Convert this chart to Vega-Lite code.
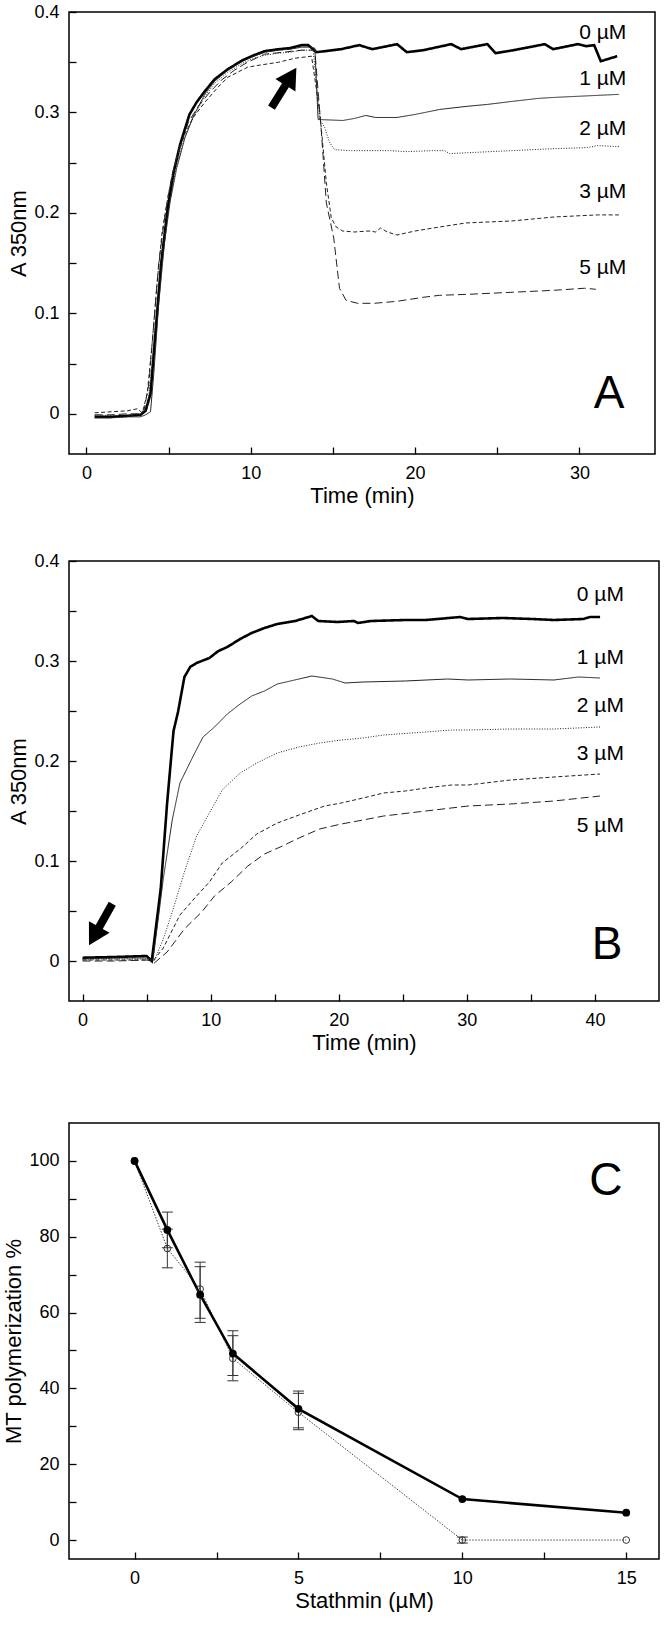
{
  "$schema": "https://vega.github.io/schema/vega-lite/v6.json",
  "background": "white",
  "padding": {"left": 2, "top": 2, "right": 0, "bottom": 0},
  "config": {
    "font": "Liberation Sans",
    "view": {"stroke": "black", "strokeWidth": 1.5},
    "axis": {
      "domain": false, "grid": false, "tickColor": "black", "tickWidth": 1.3, "tickSize": -7,
      "labelColor": "black", "titleColor": "black", "labelFontSize": 18, "titleFontSize": 22,
      "titleFontWeight": "normal", "labelFont": "Liberation Sans", "titleFont": "Liberation Sans",
      "labelPadding": 17, "labelFlush": false, "labelOverlap": false, "titlePadding": 3
    }
  },
  "datasets": {
    "a": [
      {"s":"0 µM","t":0.5,"a":-0.003},{"s":"0 µM","t":1.5,"a":-0.003},{"s":"0 µM","t":2.5,"a":-0.002},{"s":"0 µM","t":3.3,"a":-0.001},{"s":"0 µM","t":3.6,"a":0.003},{"s":"0 µM","t":3.9,"a":0.02},{"s":"0 µM","t":4.2,"a":0.08},{"s":"0 µM","t":4.55,"a":0.15},{"s":"0 µM","t":4.95,"a":0.205},{"s":"0 µM","t":5.3,"a":0.24},{"s":"0 µM","t":5.7,"a":0.268},{"s":"0 µM","t":6.27,"a":0.298},{"s":"0 µM","t":6.7,"a":0.31},{"s":"0 µM","t":7.2,"a":0.321},{"s":"0 µM","t":7.8,"a":0.333},{"s":"0 µM","t":8.6,"a":0.343},{"s":"0 µM","t":9.5,"a":0.352},{"s":"0 µM","t":10.2,"a":0.357},{"s":"0 µM","t":10.85,"a":0.361},{"s":"0 µM","t":11.7,"a":0.363},{"s":"0 µM","t":12.4,"a":0.364},{"s":"0 µM","t":13.1,"a":0.367},{"s":"0 µM","t":13.5,"a":0.367},{"s":"0 µM","t":14.0,"a":0.36},{"s":"0 µM","t":14.5,"a":0.361},{"s":"0 µM","t":15.5,"a":0.363},{"s":"0 µM","t":16.6,"a":0.367},{"s":"0 µM","t":17.4,"a":0.363},{"s":"0 µM","t":18.9,"a":0.368},{"s":"0 µM","t":19.5,"a":0.36},{"s":"0 µM","t":20.5,"a":0.362},{"s":"0 µM","t":22.2,"a":0.368},{"s":"0 µM","t":22.8,"a":0.363},{"s":"0 µM","t":24.4,"a":0.368},{"s":"0 µM","t":24.9,"a":0.359},{"s":"0 µM","t":26.0,"a":0.362},{"s":"0 µM","t":27.9,"a":0.368},{"s":"0 µM","t":28.4,"a":0.363},{"s":"0 µM","t":29.9,"a":0.368},{"s":"0 µM","t":30.4,"a":0.366},{"s":"0 µM","t":30.9,"a":0.367},{"s":"0 µM","t":31.3,"a":0.351},{"s":"0 µM","t":32.3,"a":0.356},
      {"s":"1 µM","t":0.5,"a":-0.004},{"s":"1 µM","t":1.5,"a":-0.004},{"s":"1 µM","t":2.5,"a":-0.003},{"s":"1 µM","t":3.3,"a":-0.003},{"s":"1 µM","t":3.6,"a":-0.001},{"s":"1 µM","t":3.9,"a":0.002},{"s":"1 µM","t":4.1,"a":0.04},{"s":"1 µM","t":4.4,"a":0.11},{"s":"1 µM","t":4.75,"a":0.17},{"s":"1 µM","t":5.1,"a":0.212},{"s":"1 µM","t":5.5,"a":0.245},{"s":"1 µM","t":6.0,"a":0.275},{"s":"1 µM","t":6.5,"a":0.296},{"s":"1 µM","t":7.2,"a":0.318},{"s":"1 µM","t":7.8,"a":0.331},{"s":"1 µM","t":8.6,"a":0.342},{"s":"1 µM","t":9.5,"a":0.351},{"s":"1 µM","t":10.2,"a":0.356},{"s":"1 µM","t":10.85,"a":0.36},{"s":"1 µM","t":11.7,"a":0.362},{"s":"1 µM","t":12.4,"a":0.363},{"s":"1 µM","t":13.1,"a":0.365},{"s":"1 µM","t":13.5,"a":0.365},{"s":"1 µM","t":13.9,"a":0.364},{"s":"1 µM","t":14.1,"a":0.293},{"s":"1 µM","t":15.6,"a":0.292},{"s":"1 µM","t":16.3,"a":0.294},{"s":"1 µM","t":17.0,"a":0.297},{"s":"1 µM","t":17.6,"a":0.295},{"s":"1 µM","t":18.9,"a":0.295},{"s":"1 µM","t":20.0,"a":0.298},{"s":"1 µM","t":21.5,"a":0.303},{"s":"1 µM","t":23.1,"a":0.306},{"s":"1 µM","t":24.4,"a":0.308},{"s":"1 µM","t":25.9,"a":0.311},{"s":"1 µM","t":27.5,"a":0.314},{"s":"1 µM","t":28.5,"a":0.315},{"s":"1 µM","t":29.8,"a":0.316},{"s":"1 µM","t":31.1,"a":0.317},{"s":"1 µM","t":32.4,"a":0.318},
      {"s":"2 µM","t":0.5,"a":-0.002},{"s":"2 µM","t":1.5,"a":-0.002},{"s":"2 µM","t":2.5,"a":-0.002},{"s":"2 µM","t":3.3,"a":-0.001},{"s":"2 µM","t":3.7,"a":0.005},{"s":"2 µM","t":4.0,"a":0.05},{"s":"2 µM","t":4.35,"a":0.12},{"s":"2 µM","t":4.7,"a":0.175},{"s":"2 µM","t":5.1,"a":0.215},{"s":"2 µM","t":5.5,"a":0.248},{"s":"2 µM","t":6.0,"a":0.276},{"s":"2 µM","t":6.5,"a":0.295},{"s":"2 µM","t":7.2,"a":0.316},{"s":"2 µM","t":7.8,"a":0.329},{"s":"2 µM","t":8.6,"a":0.34},{"s":"2 µM","t":9.5,"a":0.349},{"s":"2 µM","t":10.2,"a":0.354},{"s":"2 µM","t":10.85,"a":0.357},{"s":"2 µM","t":11.7,"a":0.359},{"s":"2 µM","t":12.4,"a":0.36},{"s":"2 µM","t":13.1,"a":0.362},{"s":"2 µM","t":13.8,"a":0.362},{"s":"2 µM","t":14.2,"a":0.293},{"s":"2 µM","t":14.5,"a":0.285},{"s":"2 µM","t":14.8,"a":0.27},{"s":"2 µM","t":15.1,"a":0.263},{"s":"2 µM","t":16.0,"a":0.262},{"s":"2 µM","t":16.9,"a":0.262},{"s":"2 µM","t":18.5,"a":0.262},{"s":"2 µM","t":19.5,"a":0.261},{"s":"2 µM","t":21.0,"a":0.262},{"s":"2 µM","t":21.8,"a":0.262},{"s":"2 µM","t":22.1,"a":0.259},{"s":"2 µM","t":23.3,"a":0.26},{"s":"2 µM","t":25.9,"a":0.262},{"s":"2 µM","t":28.5,"a":0.264},{"s":"2 µM","t":30.5,"a":0.265},{"s":"2 µM","t":31.1,"a":0.267},{"s":"2 µM","t":32.4,"a":0.266},
      {"s":"3 µM","t":0.5,"a":0.001},{"s":"3 µM","t":1.5,"a":0.002},{"s":"3 µM","t":2.5,"a":0.003},{"s":"3 µM","t":3.1,"a":0.005},{"s":"3 µM","t":3.4,"a":0.001},{"s":"3 µM","t":3.7,"a":0.02},{"s":"3 µM","t":4.0,"a":0.07},{"s":"3 µM","t":4.3,"a":0.13},{"s":"3 µM","t":4.6,"a":0.18},{"s":"3 µM","t":5.0,"a":0.22},{"s":"3 µM","t":5.5,"a":0.255},{"s":"3 µM","t":6.0,"a":0.279},{"s":"3 µM","t":6.5,"a":0.295},{"s":"3 µM","t":7.2,"a":0.31},{"s":"3 µM","t":8.0,"a":0.325},{"s":"3 µM","t":8.6,"a":0.335},{"s":"3 µM","t":9.8,"a":0.345},{"s":"3 µM","t":10.5,"a":0.347},{"s":"3 µM","t":11.7,"a":0.35},{"s":"3 µM","t":12.7,"a":0.354},{"s":"3 µM","t":13.7,"a":0.356},{"s":"3 µM","t":14.2,"a":0.3},{"s":"3 µM","t":14.6,"a":0.23},{"s":"3 µM","t":14.9,"a":0.195},{"s":"3 µM","t":15.2,"a":0.186},{"s":"3 µM","t":15.6,"a":0.182},{"s":"3 µM","t":16.3,"a":0.181},{"s":"3 µM","t":17.2,"a":0.182},{"s":"3 µM","t":17.6,"a":0.181},{"s":"3 µM","t":17.9,"a":0.185},{"s":"3 µM","t":18.3,"a":0.181},{"s":"3 µM","t":18.9,"a":0.178},{"s":"3 µM","t":20.0,"a":0.182},{"s":"3 µM","t":21.5,"a":0.186},{"s":"3 µM","t":23.1,"a":0.19},{"s":"3 µM","t":25.9,"a":0.192},{"s":"3 µM","t":28.5,"a":0.196},{"s":"3 µM","t":31.1,"a":0.198},{"s":"3 µM","t":32.4,"a":0.198},
      {"s":"5 µM","t":0.5,"a":-0.001},{"s":"5 µM","t":1.5,"a":-0.001},{"s":"5 µM","t":2.5,"a":0.0},{"s":"5 µM","t":3.2,"a":0.0},{"s":"5 µM","t":3.5,"a":0.003},{"s":"5 µM","t":3.8,"a":0.03},{"s":"5 µM","t":4.1,"a":0.09},{"s":"5 µM","t":4.4,"a":0.15},{"s":"5 µM","t":4.8,"a":0.2},{"s":"5 µM","t":5.2,"a":0.237},{"s":"5 µM","t":5.6,"a":0.262},{"s":"5 µM","t":6.2,"a":0.29},{"s":"5 µM","t":6.8,"a":0.306},{"s":"5 µM","t":7.5,"a":0.32},{"s":"5 µM","t":8.2,"a":0.332},{"s":"5 µM","t":9.0,"a":0.342},{"s":"5 µM","t":9.8,"a":0.35},{"s":"5 µM","t":10.85,"a":0.358},{"s":"5 µM","t":12.0,"a":0.36},{"s":"5 µM","t":13.1,"a":0.362},{"s":"5 µM","t":13.9,"a":0.362},{"s":"5 µM","t":14.3,"a":0.28},{"s":"5 µM","t":14.6,"a":0.21},{"s":"5 µM","t":15.05,"a":0.175},{"s":"5 µM","t":15.4,"a":0.125},{"s":"5 µM","t":15.8,"a":0.113},{"s":"5 µM","t":16.5,"a":0.11},{"s":"5 µM","t":17.5,"a":0.11},{"s":"5 µM","t":18.9,"a":0.112},{"s":"5 µM","t":20.5,"a":0.116},{"s":"5 µM","t":21.5,"a":0.118},{"s":"5 µM","t":23.3,"a":0.119},{"s":"5 µM","t":25.9,"a":0.121},{"s":"5 µM","t":28.5,"a":0.123},{"s":"5 µM","t":30.3,"a":0.125},{"s":"5 µM","t":31.0,"a":0.124}
    ],
    "alab": [
      {"lab":"0 µM","t":32.85,"a":0.379},{"lab":"1 µM","t":32.85,"a":0.333},{"lab":"2 µM","t":32.85,"a":0.284},{"lab":"3 µM","t":32.85,"a":0.221},{"lab":"5 µM","t":32.85,"a":0.145}
    ],
    "b": [
      {"s":"0 µM","t":0.0,"a":0.0033},{"s":"0 µM","t":2.5,"a":0.004},{"s":"0 µM","t":5.0,"a":0.005},{"s":"0 µM","t":5.4,"a":0.0},{"s":"0 µM","t":6.1,"a":0.072},{"s":"0 µM","t":6.6,"a":0.158},{"s":"0 µM","t":7.1,"a":0.23},{"s":"0 µM","t":7.45,"a":0.249},{"s":"0 µM","t":7.95,"a":0.284},{"s":"0 µM","t":8.4,"a":0.294},{"s":"0 µM","t":8.9,"a":0.298},{"s":"0 µM","t":9.9,"a":0.303},{"s":"0 µM","t":10.6,"a":0.31},{"s":"0 µM","t":11.3,"a":0.314},{"s":"0 µM","t":12.3,"a":0.322},{"s":"0 µM","t":13.2,"a":0.328},{"s":"0 µM","t":14.2,"a":0.333},{"s":"0 µM","t":15.2,"a":0.337},{"s":"0 µM","t":16.6,"a":0.34},{"s":"0 µM","t":17.9,"a":0.345},{"s":"0 µM","t":18.4,"a":0.34},{"s":"0 µM","t":19.9,"a":0.339},{"s":"0 µM","t":21.2,"a":0.34},{"s":"0 µM","t":21.5,"a":0.338},{"s":"0 µM","t":22.5,"a":0.34},{"s":"0 µM","t":25.2,"a":0.341},{"s":"0 µM","t":26.8,"a":0.341},{"s":"0 µM","t":29.5,"a":0.344},{"s":"0 µM","t":30.1,"a":0.342},{"s":"0 µM","t":32.8,"a":0.343},{"s":"0 µM","t":35.1,"a":0.342},{"s":"0 µM","t":36.8,"a":0.341},{"s":"0 µM","t":39.1,"a":0.342},{"s":"0 µM","t":39.6,"a":0.344},{"s":"0 µM","t":40.4,"a":0.344},
      {"s":"1 µM","t":0.0,"a":0.002},{"s":"1 µM","t":2.5,"a":0.003},{"s":"1 µM","t":5.0,"a":0.003},{"s":"1 µM","t":5.5,"a":0.001},{"s":"1 µM","t":6.3,"a":0.082},{"s":"1 µM","t":7.0,"a":0.141},{"s":"1 µM","t":7.6,"a":0.178},{"s":"1 µM","t":8.6,"a":0.204},{"s":"1 µM","t":9.4,"a":0.224},{"s":"1 µM","t":10.3,"a":0.234},{"s":"1 µM","t":11.3,"a":0.247},{"s":"1 µM","t":12.3,"a":0.257},{"s":"1 µM","t":13.2,"a":0.265},{"s":"1 µM","t":14.2,"a":0.27},{"s":"1 µM","t":15.2,"a":0.277},{"s":"1 µM","t":16.9,"a":0.282},{"s":"1 µM","t":17.9,"a":0.285},{"s":"1 µM","t":19.5,"a":0.282},{"s":"1 µM","t":20.5,"a":0.278},{"s":"1 µM","t":21.9,"a":0.279},{"s":"1 µM","t":25.2,"a":0.28},{"s":"1 µM","t":28.5,"a":0.282},{"s":"1 µM","t":30.1,"a":0.281},{"s":"1 µM","t":33.4,"a":0.282},{"s":"1 µM","t":36.8,"a":0.281},{"s":"1 µM","t":38.7,"a":0.284},{"s":"1 µM","t":40.4,"a":0.283},
      {"s":"2 µM","t":0.0,"a":0.002},{"s":"2 µM","t":2.5,"a":0.002},{"s":"2 µM","t":5.2,"a":0.002},{"s":"2 µM","t":5.6,"a":0.0},{"s":"2 µM","t":6.3,"a":0.022},{"s":"2 µM","t":7.0,"a":0.049},{"s":"2 µM","t":7.95,"a":0.089},{"s":"2 µM","t":8.9,"a":0.125},{"s":"2 µM","t":9.9,"a":0.148},{"s":"2 µM","t":10.9,"a":0.171},{"s":"2 µM","t":12.3,"a":0.188},{"s":"2 µM","t":13.6,"a":0.198},{"s":"2 µM","t":15.2,"a":0.208},{"s":"2 µM","t":16.9,"a":0.214},{"s":"2 µM","t":18.5,"a":0.218},{"s":"2 µM","t":20.2,"a":0.221},{"s":"2 µM","t":21.9,"a":0.223},{"s":"2 µM","t":23.5,"a":0.226},{"s":"2 µM","t":26.8,"a":0.229},{"s":"2 µM","t":28.8,"a":0.231},{"s":"2 µM","t":30.1,"a":0.231},{"s":"2 µM","t":33.4,"a":0.232},{"s":"2 µM","t":36.8,"a":0.232},{"s":"2 µM","t":40.4,"a":0.234},
      {"s":"3 µM","t":0.0,"a":0.001},{"s":"3 µM","t":2.5,"a":0.001},{"s":"3 µM","t":5.0,"a":0.001},{"s":"3 µM","t":5.5,"a":0.0},{"s":"3 µM","t":6.3,"a":0.013},{"s":"3 µM","t":7.6,"a":0.046},{"s":"3 µM","t":8.9,"a":0.065},{"s":"3 µM","t":9.9,"a":0.079},{"s":"3 µM","t":10.9,"a":0.098},{"s":"3 µM","t":12.3,"a":0.112},{"s":"3 µM","t":13.6,"a":0.127},{"s":"3 µM","t":15.2,"a":0.138},{"s":"3 µM","t":16.9,"a":0.146},{"s":"3 µM","t":18.9,"a":0.155},{"s":"3 µM","t":20.2,"a":0.158},{"s":"3 µM","t":21.9,"a":0.163},{"s":"3 µM","t":23.5,"a":0.168},{"s":"3 µM","t":25.2,"a":0.17},{"s":"3 µM","t":26.8,"a":0.173},{"s":"3 µM","t":28.8,"a":0.176},{"s":"3 µM","t":30.1,"a":0.176},{"s":"3 µM","t":33.4,"a":0.181},{"s":"3 µM","t":36.8,"a":0.184},{"s":"3 µM","t":40.4,"a":0.187},
      {"s":"5 µM","t":0.0,"a":0.0},{"s":"5 µM","t":2.5,"a":0.0},{"s":"5 µM","t":5.1,"a":0.001},{"s":"5 µM","t":5.6,"a":-0.002},{"s":"5 µM","t":6.6,"a":0.009},{"s":"5 µM","t":7.95,"a":0.032},{"s":"5 µM","t":9.3,"a":0.049},{"s":"5 µM","t":10.3,"a":0.065},{"s":"5 µM","t":11.6,"a":0.079},{"s":"5 µM","t":12.9,"a":0.095},{"s":"5 µM","t":14.2,"a":0.107},{"s":"5 µM","t":15.6,"a":0.115},{"s":"5 µM","t":16.9,"a":0.123},{"s":"5 µM","t":18.5,"a":0.132},{"s":"5 µM","t":20.2,"a":0.137},{"s":"5 µM","t":21.9,"a":0.141},{"s":"5 µM","t":23.5,"a":0.145},{"s":"5 µM","t":26.8,"a":0.15},{"s":"5 µM","t":30.1,"a":0.155},{"s":"5 µM","t":33.4,"a":0.157},{"s":"5 µM","t":36.8,"a":0.16},{"s":"5 µM","t":40.4,"a":0.165}
    ],
    "blab": [
      {"lab":"0 µM","t":42.26,"a":0.366},{"lab":"1 µM","t":42.26,"a":0.303},{"lab":"2 µM","t":42.26,"a":0.255},{"lab":"3 µM","t":42.26,"a":0.207},{"lab":"5 µM","t":42.26,"a":0.1355}
    ],
    "cpts": [
      {"s":"filled","x":0,"y":100},{"s":"filled","x":1,"y":81.8},{"s":"filled","x":2,"y":64.7},{"s":"filled","x":3,"y":49.2},{"s":"filled","x":5,"y":34.6},{"s":"filled","x":10,"y":10.8},{"s":"filled","x":15,"y":7.2},
      {"s":"open","x":0,"y":100},{"s":"open","x":1,"y":76.9},{"s":"open","x":2,"y":66.2},{"s":"open","x":3,"y":47.9},{"s":"open","x":5,"y":33.7},{"s":"open","x":10,"y":0},{"s":"open","x":15,"y":0}
    ],
    "cerr": [
      {"s":"filled","x":1,"y":77.1,"hi":86.5},{"s":"open","x":1,"y":71.8,"hi":82.0},
      {"s":"filled","x":2,"y":57.4,"hi":73.3},{"s":"open","x":2,"y":58.5,"hi":72.1},
      {"s":"filled","x":3,"y":42.0,"hi":55.2},{"s":"open","x":3,"y":43.4,"hi":53.9},
      {"s":"filled","x":5,"y":29.6,"hi":39.3},{"s":"open","x":5,"y":29.1,"hi":38.7},
      {"s":"open","x":10,"y":-0.8,"hi":0.8}
    ],
    "ccap": [
      {"x":1,"y":77.1},{"x":1,"y":86.5},{"x":1,"y":71.8},{"x":1,"y":82.0},
      {"x":2,"y":57.4},{"x":2,"y":73.3},{"x":2,"y":58.5},{"x":2,"y":72.1},
      {"x":3,"y":42.0},{"x":3,"y":55.2},{"x":3,"y":43.4},{"x":3,"y":53.9},
      {"x":5,"y":29.6},{"x":5,"y":39.3},{"x":5,"y":29.1},{"x":5,"y":38.7},
      {"x":10,"y":-0.8},{"x":10,"y":0.8}
    ]
  },
  "spacing": 68,
  "vconcat": [
    {
      "spacing": 44,
      "vconcat": [
        {
          "width": 586, "height": 442,
          "encoding": {
            "x": {"field": "t", "type": "quantitative", "scale": {"domain": [-1.06, 34.6], "nice": false, "zero": false},
                  "axis": {"title": "Time (min)", "values": [0,5,10,15,20,25,30], "labelExpr": "datum.value % 10 === 0 ? datum.label : ''"}},
            "y": {"field": "a", "type": "quantitative", "scale": {"domain": [-0.04, 0.4], "nice": false, "zero": false},
                  "axis": {"title": "A 350nm", "values": [0,0.05,0.1,0.15,0.2,0.25,0.3,0.35,0.4], "labelExpr": "round(datum.value*20) % 2 === 0 ? format(datum.value, '~g') : ''"}}
          },
          "layer": [
            {"data": {"name": "a"}, "mark": {"type": "line", "color": "black"},
             "encoding": {
               "strokeDash": {"field": "s", "type": "nominal", "scale": {"domain": ["0 µM","1 µM","2 µM","3 µM","5 µM"], "range": [[1,0],[1,0],[1,1.6],[4,2.5],[8,4]]}, "legend": null},
               "strokeWidth": {"condition": {"test": "datum.s === '0 µM'", "value": 2.6}, "value": 1},
               "color": {"condition": {"test": "datum.s === '0 µM'", "value": "black"}, "value": "#222"}
             }},
            {"data": {"name": "alab"}, "mark": {"type": "text", "align": "right", "baseline": "middle", "fontSize": 21, "color": "black"},
             "encoding": {"text": {"field": "lab"}}},
            {"data": {"values": [{"t": 31.8, "a": 0.02, "lab": "A"}]}, "mark": {"type": "text", "align": "center", "baseline": "middle", "fontSize": 46, "color": "black"},
             "encoding": {"text": {"field": "lab"}}},
            {"data": {"values": [{"t": 12.02, "a": 0.3247}]},
             "mark": {"type": "point", "shape": "M0,-1L0.5,-0.12L0.17,-0.12L0.17,1L-0.17,1L-0.17,-0.12L-0.5,-0.12Z", "filled": true, "color": "black", "opacity": 1, "size": 2209, "angle": 32, "strokeWidth": 0}}
          ]
        },
        {
          "width": 590, "height": 440,
          "encoding": {
            "x": {"field": "t", "type": "quantitative", "scale": {"domain": [-1.06, 45.0], "nice": false, "zero": false},
                  "axis": {"title": "Time (min)", "values": [0,5,10,15,20,25,30,35,40], "labelExpr": "datum.value % 10 === 0 ? datum.label : ''"}},
            "y": {"field": "a", "type": "quantitative", "scale": {"domain": [-0.04, 0.4], "nice": false, "zero": false},
                  "axis": {"title": "A 350nm", "values": [0,0.05,0.1,0.15,0.2,0.25,0.3,0.35,0.4], "labelExpr": "round(datum.value*20) % 2 === 0 ? format(datum.value, '~g') : ''"}}
          },
          "layer": [
            {"data": {"name": "b"}, "mark": {"type": "line", "color": "black"},
             "encoding": {
               "strokeDash": {"field": "s", "type": "nominal", "scale": {"domain": ["0 µM","1 µM","2 µM","3 µM","5 µM"], "range": [[1,0],[1,0],[1,1.6],[4,2.5],[8,4]]}, "legend": null},
               "strokeWidth": {"condition": {"test": "datum.s === '0 µM'", "value": 2.6}, "value": 1},
               "color": {"condition": {"test": "datum.s === '0 µM'", "value": "black"}, "value": "#222"}
             }},
            {"data": {"name": "blab"}, "mark": {"type": "text", "align": "right", "baseline": "middle", "fontSize": 21, "color": "black"},
             "encoding": {"text": {"field": "lab"}}},
            {"data": {"values": [{"t": 40.95, "a": 0.016, "lab": "B"}]}, "mark": {"type": "text", "align": "center", "baseline": "middle", "fontSize": 46, "color": "black"},
             "encoding": {"text": {"field": "lab"}}},
            {"data": {"values": [{"t": 1.41, "a": 0.0365}]},
             "mark": {"type": "point", "shape": "M0,-1L0.5,-0.12L0.17,-0.12L0.17,1L-0.17,1L-0.17,-0.12L-0.5,-0.12Z", "filled": true, "color": "black", "opacity": 1, "size": 2247, "angle": 209.4, "strokeWidth": 0}}
          ]
        }
      ]
    },
    {
      "width": 590, "height": 436,
      "encoding": {
        "x": {"field": "x", "type": "quantitative", "scale": {"domain": [-2, 16], "nice": false, "zero": false},
              "axis": {"title": "Stathmin (µM)", "values": [0,2.5,5,7.5,10,12.5,15], "labelExpr": "datum.value % 5 === 0 ? datum.label : ''"}},
        "y": {"field": "y", "type": "quantitative", "scale": {"domain": [-5, 110], "nice": false, "zero": false},
              "axis": {"title": "MT polymerization %", "values": [0,10,20,30,40,50,60,70,80,90,100], "labelExpr": "datum.value % 20 === 0 ? datum.label : ''"}}
      },
      "layer": [
        {"data": {"name": "cpts"}, "transform": [{"filter": "datum.s === 'open'"}], "mark": {"type": "line", "color": "#444", "strokeWidth": 1, "strokeDash": [1.5, 1.5]}},
        {"data": {"name": "cpts"}, "transform": [{"filter": "datum.s === 'filled'"}], "mark": {"type": "line", "color": "black", "strokeWidth": 2.6}},
        {"data": {"name": "cerr"}, "mark": {"type": "rule", "color": "#333", "strokeWidth": 1}, "encoding": {"y2": {"field": "hi"}}},
        {"data": {"name": "ccap"}, "mark": {"type": "tick", "orient": "horizontal", "color": "#333", "size": 11, "thickness": 1, "opacity": 1}},
        {"data": {"name": "cpts"}, "transform": [{"filter": "datum.s === 'open'"}], "mark": {"type": "point", "shape": "circle", "filled": false, "color": "#333", "size": 45, "strokeWidth": 1, "opacity": 1}},
        {"data": {"name": "cpts"}, "transform": [{"filter": "datum.s === 'filled'"}], "mark": {"type": "point", "shape": "circle", "filled": true, "color": "black", "size": 60, "opacity": 1}},
        {"data": {"values": [{"x": 14.38, "y": 94.6, "lab": "C"}]}, "mark": {"type": "text", "align": "center", "baseline": "middle", "fontSize": 46, "color": "black"},
         "encoding": {"text": {"field": "lab"}}}
      ]
    }
  ]
}
